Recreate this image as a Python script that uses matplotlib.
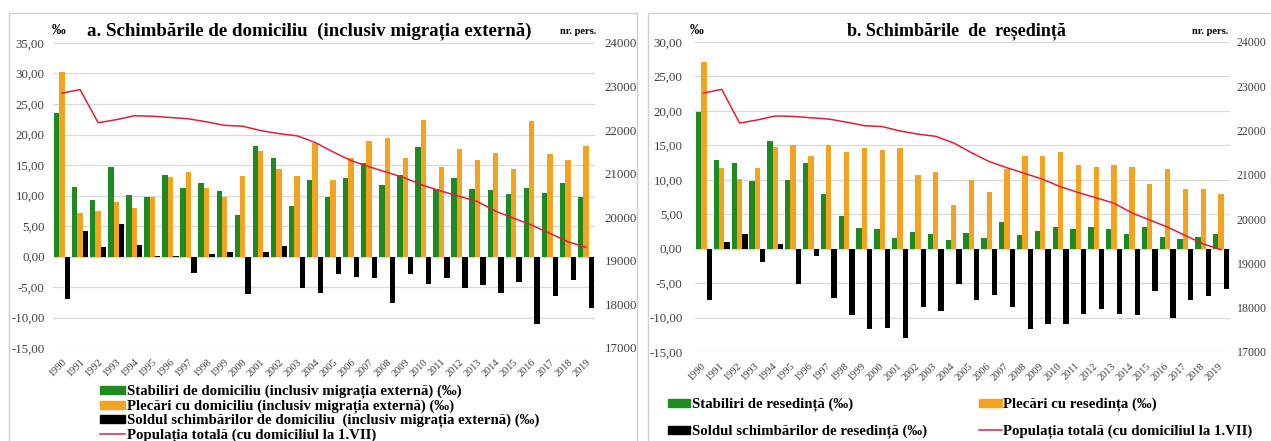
import matplotlib.pyplot as plt
import numpy as np
from matplotlib.patches import Rectangle
from matplotlib.ticker import FuncFormatter
import matplotlib.transforms as mtransforms

plt.rcParams['font.family'] = ['Liberation Serif', 'DejaVu Serif']

years = [str(y) for y in range(1990, 2020)]

# a. domiciliu (inclusiv migratia externa), promile
stab_dom = [23.5, 11.4, 9.2, 14.7, 10.1, 9.8, 13.3, 11.2, 12.0, 10.7,
            6.8, 18.1, 16.2, 8.3, 12.5, 9.7, 12.8, 15.4, 11.8, 13.3,
            18.0, 11.0, 12.8, 11.0, 10.9, 10.2, 11.2, 10.4, 12.0, 9.7]
plec_dom = [30.3, 7.1, 7.4, 9.0, 8.0, 9.8, 13.0, 13.9, 11.3, 9.8,
            13.2, 17.3, 14.4, 13.2, 18.6, 12.5, 16.2, 18.9, 19.5, 16.2,
            22.4, 14.7, 17.7, 15.8, 16.9, 14.3, 22.2, 16.8, 15.9, 18.1]
sold_dom = [-7.0, 4.2, 1.6, 5.4, 1.9, 0.1, 0.1, -2.7, 0.4, 0.7,
            -6.1, 0.7, 1.8, -5.2, -6.0, -2.8, -3.3, -3.6, -7.6, -2.9,
            -4.5, -3.5, -5.1, -4.7, -6.0, -4.1, -11.1, -6.5, -3.9, -8.5]

# b. resedinta, promile
stab_res = [19.8, 12.8, 12.5, 9.8, 15.6, 10.0, 12.5, 8.0, 4.8, 3.0,
            2.8, 1.5, 2.4, 2.1, 1.3, 2.3, 1.6, 3.8, 2.0, 2.6,
            3.1, 2.9, 3.1, 2.9, 2.2, 3.1, 1.7, 1.4, 1.7, 2.2]
plec_res = [27.1, 11.7, 10.1, 11.7, 14.7, 15.0, 13.4, 15.1, 14.1, 14.6,
            14.3, 14.6, 10.7, 11.2, 6.3, 10.0, 8.2, 11.6, 13.5, 13.5,
            14.0, 12.2, 11.8, 12.2, 11.8, 9.4, 11.6, 8.7, 8.7, 7.9]
sold_res = [-7.5, 0.9, 2.1, -2.0, 0.7, -5.2, -1.1, -7.2, -9.6, -11.7,
            -11.5, -13.0, -8.5, -9.1, -5.1, -7.5, -6.7, -8.4, -11.6, -10.9,
            -10.9, -9.5, -8.7, -9.5, -9.7, -6.2, -10.0, -7.4, -6.9, -5.8]

# populatia totala (cu domiciliul la 1.VII), nr. pers.
populatie = [22850, 22930, 22170, 22240, 22330, 22320, 22290, 22260, 22190, 22110,
             22090, 21990, 21920, 21870, 21720, 21500, 21300, 21160, 21030, 20900,
             20730, 20600, 20480, 20360, 20140, 19980, 19820, 19630, 19440, 19310]

GREEN = '#1f8a1f'
ORANGE = '#f5a31f'
RED = '#e0203a'
W, H = 1271, 441


def fx(px):
    return px / W


def fy(py):
    return 1 - py / H


def draw_panel(ax, stab, plec, sold, ylim, yticks, lpad, rpad, rsize, xoff):
    x = np.arange(len(years))
    w = 0.3
    ax.bar(x - w, stab, w, color=GREEN, zorder=2)
    ax.bar(x, plec, w, color=ORANGE, zorder=2)
    ax.bar(x + w, sold, w, color='black', zorder=2)
    ax.set_xlim(-0.5, len(years) - 0.5)
    ax.set_ylim(*ylim)
    ax.set_yticks(yticks)
    ax.yaxis.set_major_formatter(FuncFormatter(lambda v, p: f"{v:.2f}".replace('.', ',')))
    ax.grid(axis='y', color='#d9d9d9', lw=0.9, zorder=0)
    ax.set_axisbelow(True)
    for s in ax.spines.values():
        s.set_visible(False)
    ax.tick_params(axis='y', length=0, pad=lpad, labelsize=9.3, labelcolor='#404040')
    ax.set_xticks(x)
    ax.set_xticklabels(years, rotation=45, ha='right', va='center',
                       rotation_mode='anchor', fontsize=7.5, color='#404040')
    ax.tick_params(axis='x', length=0, pad=9)
    off = mtransforms.ScaledTranslation(xoff / 100, 0, ax.figure.dpi_scale_trans)
    for lab in ax.get_xticklabels():
        lab.set_transform(lab.get_transform() + off)

    ax2 = ax.twinx()
    ax2.plot(x, populatie, color=RED, lw=1.1)
    ax2.set_ylim(17000, 24000)
    ax2.set_yticks(range(17000, 24001, 1000))
    for s in ax2.spines.values():
        s.set_visible(False)
    ax2.tick_params(axis='y', length=0, pad=rpad, labelsize=rsize, labelcolor='#404040')
    return ax2


fig = plt.figure(figsize=(12.71, 4.41), dpi=100)

# chart area borders
fig.patches.append(Rectangle((fx(9), fy(460)), fx(637 - 9), (460 - 13) / H,
                             transform=fig.transFigure, fill=False,
                             edgecolor='#d0d0d0', lw=1))
fig.patches.append(Rectangle((fx(648), fy(460)), fx(1290 - 648), (460 - 13) / H,
                             transform=fig.transFigure, fill=False,
                             edgecolor='#d0d0d0', lw=1))

# ===== a =====
axa = fig.add_axes([fx(53), fy(348), fx(595 - 53), (348 - 43) / H])
draw_panel(axa, stab_dom, plec_dom, sold_dom, (-15, 35), np.arange(-15, 36, 5), 6, 7, 9.3, 3)

fig.text(fx(52), fy(31), '‰', fontsize=10, fontweight='bold', va='center')
fig.text(fx(87), fy(31), 'a. Schimbările de domiciliu  (inclusiv migrația externă)',
         fontsize=13.6, fontweight='bold', va='center', ha='left')
fig.text(fx(560), fy(31), 'nr. pers.', fontsize=7.5, fontweight='bold', va='center')

leg_a = [Rectangle((0, 0), 1, 1, color=GREEN), Rectangle((0, 0), 1, 1, color=ORANGE),
         Rectangle((0, 0), 1, 1, color='black'), plt.Line2D([], [], color=RED, lw=1.1)]
lab_a = ['Stabiliri de domiciliu (inclusiv migrația externă) (‰)',
         'Plecări cu domiciliu (inclusiv migrația externă) (‰)',
         'Soldul schimbărilor de domiciliu  (inclusiv migrația externă) (‰)',
         'Populația totală (cu domiciliul la 1.VII)']
fig.legend(leg_a, lab_a, loc='upper left', bbox_to_anchor=(fx(100), fy(385)),
           frameon=False, borderpad=0, borderaxespad=0, labelspacing=0.03,
           handlelength=1.7, handleheight=0.45, handletextpad=0.12,
           prop={'size': 10.7, 'weight': 'bold'})

# ===== b =====
axb = fig.add_axes([fx(695), fy(352), fx(1230 - 695), (352 - 42) / H])
draw_panel(axb, stab_res, plec_res, sold_res, (-15, 30), np.arange(-15, 31, 5), 9, 5, 8.6, 0)

fig.text(fx(690), fy(31), '‰', fontsize=10, fontweight='bold', va='center')
fig.text(fx(847), fy(31), 'b. Schimbările  de  reședință',
         fontsize=13, fontweight='bold', va='center', ha='left')
fig.text(fx(1192), fy(31), 'nr. pers.', fontsize=7.5, fontweight='bold', va='center')

leg_b = [leg_a[0], leg_a[2], leg_a[1], leg_a[3]]
lab_b = ['Stabiliri de resedință (‰)', 'Soldul schimbărilor de resedință (‰)',
         'Plecări cu resedința (‰)', 'Populația totală (cu domiciliul la 1.VII)']
fig.legend(leg_b, lab_b, loc='upper left', bbox_to_anchor=(fx(668), fy(398)), ncol=2,
           frameon=False, borderpad=0, borderaxespad=0, labelspacing=0.85,
           handlelength=1.5, handleheight=0.45, handletextpad=0.12, columnspacing=3.5,
           prop={'size': 10.7, 'weight': 'bold'})

plt.savefig('out.png', dpi=100)
